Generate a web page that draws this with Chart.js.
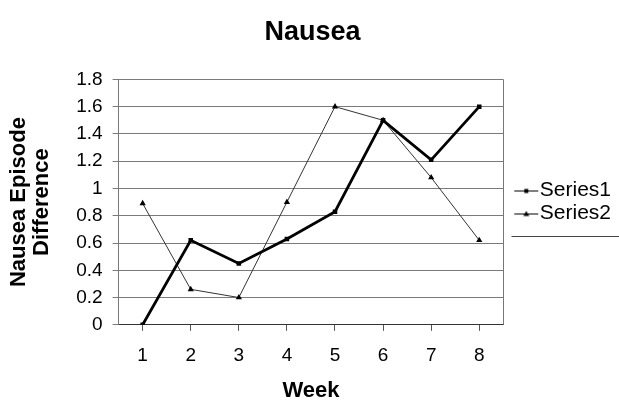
<!DOCTYPE html>
<html>
<head>
<meta charset="utf-8">
<script src="https://cdn.jsdelivr.net/npm/chart.js@4/dist/chart.umd.min.js"></script>
<style>
html,body{margin:0;padding:0;background:#fff;}
#wrap{width:619px;height:404px;position:relative;}
</style>
</head>
<body>
<div id="wrap"><canvas id="c" width="619" height="404"></canvas></div>
<script>
const weeks = ['1','2','3','4','5','6','7','8'];
const series1 = [0, 0.62, 0.45, 0.63, 0.83, 1.5, 1.21, 1.6];
const series2 = [0.89, 0.26, 0.2, 0.9, 1.6, 1.5, 1.08, 0.62];
const seriesNames = ['Series1', 'Series2'];
const titleText = 'Nausea';
const yTitle = ['Nausea Episode', 'Difference'];
const xTitle = 'Week';

function legendIcon(shape){
  const cv = document.createElement('canvas');
  cv.width = 48; cv.height = 8;
  const g = cv.getContext('2d');
  g.strokeStyle = '#000'; g.lineWidth = 1;
  g.beginPath(); g.moveTo(21, 4.5); g.lineTo(45, 4.5); g.stroke();
  g.fillStyle = '#000';
  if (shape === 'rect') { g.fillRect(31, 2.5, 4, 4); }
  else { g.beginPath(); g.moveTo(33, 1.5); g.lineTo(36, 6.5); g.lineTo(30, 6.5); g.closePath(); g.fill(); }
  return cv;
}

const FONT = "'Liberation Sans', Arial, sans-serif";
new Chart(document.getElementById('c'), {
  type: 'line',
  data: {
    labels: weeks,
    datasets: [
      { label: seriesNames[0], data: series1, borderColor: '#000', backgroundColor: '#000',
        borderWidth: 2.8, pointStyle: 'rect', pointRadius: 3.2, pointBorderWidth: 0, tension: 0 },
      { label: seriesNames[1], data: series2, borderColor: '#333', backgroundColor: '#000',
        borderWidth: 1, pointStyle: 'triangle', pointRadius: 3.6, pointBorderWidth: 0, tension: 0 }
    ]
  },
  options: {
    responsive: false,
    animation: false,
    layout: { padding: { left: 4, right: -2, top: 0, bottom: 0 } },
    plugins: {
      title: { display: true, text: titleText, color: '#000',
        font: { family: FONT, size: 27, weight: 'bold' }, padding: { top: 16, bottom: 31 } },
      legend: {
        position: 'right', align: 'center',
        labels: {
          color: '#000', font: { family: FONT, size: 21 }, usePointStyle: true, pointStyleWidth: 24, padding: 2,
          generateLabels: (chart) => chart.data.datasets.map((d, i) => ({
            text: d.label, pointStyle: legendIcon(i === 0 ? 'rect' : 'triangle'),
            fontColor: '#000', datasetIndex: i, lineWidth: 0, strokeStyle: 'transparent', fillStyle: 'transparent'
          }))
        }
      },
      tooltip: { enabled: false }
    },
    scales: {
      x: {
        offset: true,
        grid: { display: true, drawOnChartArea: false, drawTicks: true, tickLength: 6, color: '#555' },
        border: { color: '#333', width: 1 },
        ticks: { color: '#000', font: { family: FONT, size: 19 }, padding: 14, maxRotation: 0 },
        title: { display: true, text: xTitle, color: '#000', font: { family: FONT, size: 22, weight: 'bold' }, padding: { top: -4, bottom: 0 } }
      },
      y: {
        min: 0, max: 1.8,
        grid: { color: '#7a7a7a', tickLength: 6, drawTicks: true },
        border: { color: '#777', width: 1 },
        ticks: { stepSize: 0.2, color: '#000', font: { family: FONT, size: 19 }, padding: 10,
          callback: (v) => String(Math.round(v * 10) / 10) },
        title: { display: true, text: yTitle, color: '#000', font: { family: FONT, size: 22, weight: 'bold', lineHeight: 1.05 }, padding: { top: 3, bottom: 13 } }
      }
    }
  },
  plugins: [{
    id: 'frame',
    afterDraw(chart) {
      const { ctx, chartArea: a } = chart;
      ctx.save();
      ctx.strokeStyle = '#777'; ctx.lineWidth = 1;
      const rx = Math.round(a.right) + 0.5;
      ctx.beginPath(); ctx.moveTo(rx, a.top); ctx.lineTo(rx, a.bottom); ctx.stroke();
      const hb = chart.legend && chart.legend.legendHitBoxes;
      if (hb && hb.length) {
        const last = hb[hb.length - 1];
        const ly = Math.round(last.top + last.height + 12) + 0.5;
        ctx.strokeStyle = '#444';
        ctx.beginPath(); ctx.moveTo(rx + 8, ly); ctx.lineTo(chart.width, ly); ctx.stroke();
      }
      ctx.restore();
    }
  }]
});
</script>
</body>
</html>
